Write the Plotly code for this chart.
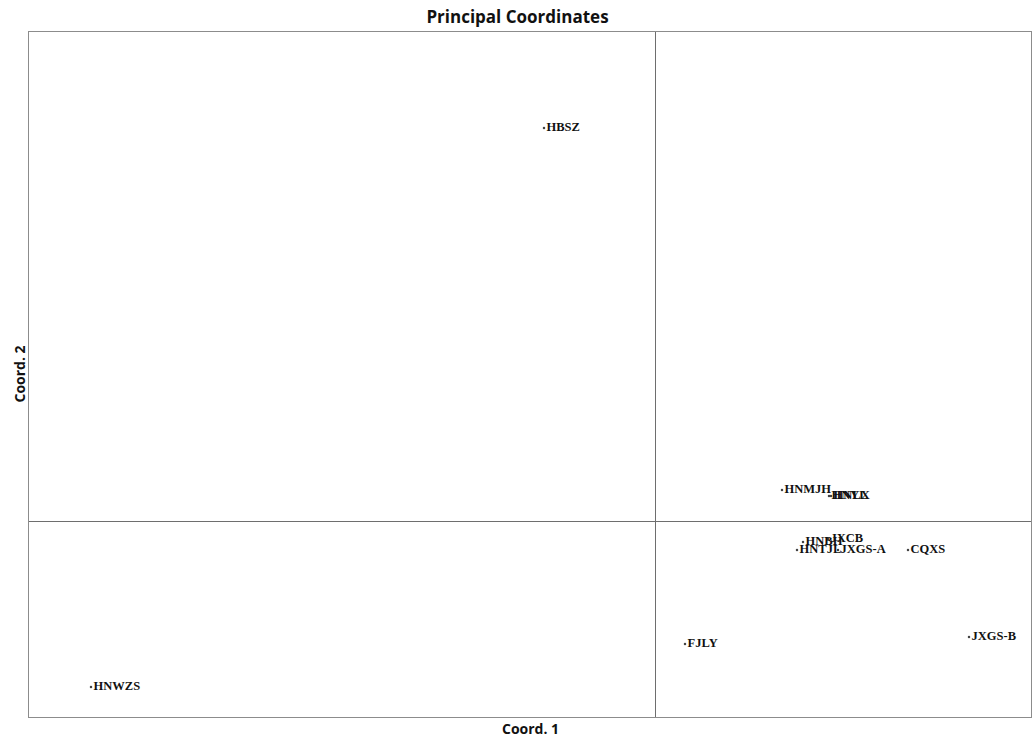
import plotly.graph_objects as go

labels = ["HBSZ", "HNMJH", "HNYL", "HNLX", "HNBH", "JXCB", "HNTJL", "JXGS-A", "CQXS", "JXGS-B", "FJLY", "HNWZS"]
coord1 = [-1.11, 1.27, 1.74, 1.76, 1.48, 1.73, 1.42, 1.83, 2.53, 3.14, 0.30, -5.64]
coord2 = [3.93, 0.31, 0.25, 0.25, -0.21, -0.18, -0.29, -0.29, -0.29, -1.16, -1.23, -1.66]

fig = go.Figure()
fig.add_trace(go.Scatter(
    x=coord1, y=coord2, mode="markers+text", text=["<b>%s</b>" % s for s in labels],
    textposition="middle right",
    marker=dict(size=2.5, color="#444444"),
    textfont=dict(family="Liberation Serif, DejaVu Serif, serif", size=12.5, color="#111111"),
    cliponaxis=False, hovertext=labels, hoverinfo="text",
))

axis_common = dict(showgrid=False, showticklabels=False, ticks="",
                   showline=True, mirror=True, linecolor="#8c8c8c", linewidth=1,
                   zeroline=True, zerolinecolor="#6e6e6e", zerolinewidth=1)
fig.update_xaxes(range=[-6.26, 3.76], **axis_common)
fig.update_yaxes(range=[-1.96, 4.89], **axis_common)

fig.update_layout(
    width=1035, height=738,
    margin=dict(l=29, r=4, t=32, b=21),
    plot_bgcolor="white", paper_bgcolor="white",
    showlegend=False,
    title=dict(text="<b>Principal Coordinates</b>", x=0.5, xanchor="center",
               y=0.977, yanchor="middle",
               font=dict(family="Open Sans, Lato, sans-serif", size=17, color="#111111")),
    annotations=[
        dict(text="<b>Coord. 1</b>", xref="paper", yref="paper", x=0.5, y=0,
             yshift=-11, xanchor="center", yanchor="middle", showarrow=False,
             font=dict(family="Open Sans, Lato, sans-serif", size=14, color="#111111")),
        dict(text="<b>Coord. 2</b>", xref="paper", yref="paper", x=0, y=0.5,
             xshift=-10, xanchor="center", yanchor="middle", showarrow=False, textangle=-90,
             font=dict(family="Open Sans, Lato, sans-serif", size=14, color="#111111")),
    ],
)

fig.write_html("out.html")
